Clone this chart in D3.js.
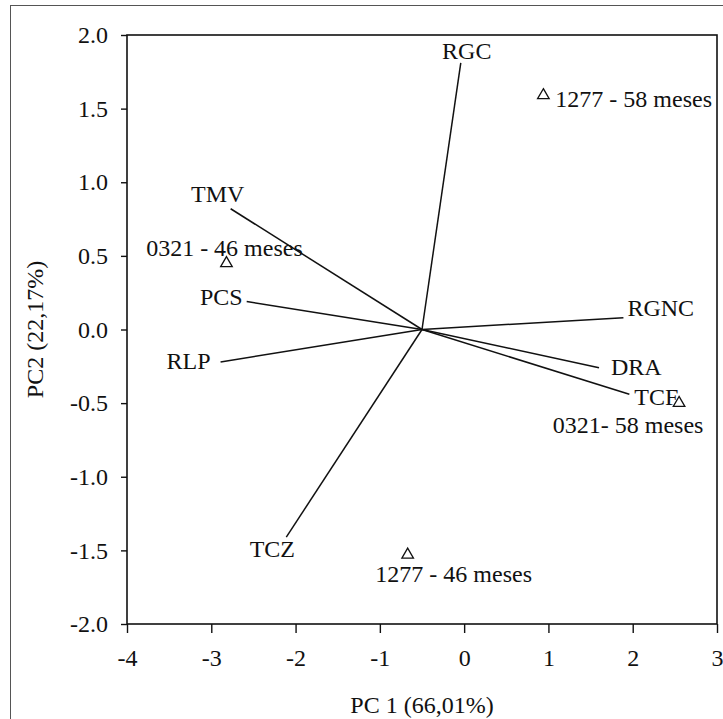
<!DOCTYPE html>
<html>
<head>
<meta charset="utf-8">
<script src="https://cdn.jsdelivr.net/npm/d3@7"></script>
<style>
  body { margin: 0; background: #fff; }
</style>
</head>
<body>
<div id="chart"></div>
<script>
// loadings (vectors drawn from the origin)
var varNames = ["RGC", "TMV", "PCS", "RLP", "TCZ", "RGNC", "DRA", "TCF"];
var varPC1 = [-0.04, -2.77, -2.58, -2.89, -2.11, 1.89, 1.60, 1.96];
var varPC2 = [1.81, 0.82, 0.19, -0.22, -1.41, 0.08, -0.26, -0.44];
var vecOrigin = [-0.5, 0];

// scores (triangles)
var obsNames = ["1277 - 58 meses", "0321 - 46 meses", "0321- 58 meses", "1277 - 46 meses"];
var obsPC1 = [0.94, -2.82, 2.55, -0.67];
var obsPC2 = [1.59, 0.45, -0.50, -1.53];

var xTicks = [-4, -3, -2, -1, 0, 1, 2, 3];
var yTicks = [-2, -1.5, -1, -0.5, 0, 0.5, 1, 1.5, 2];
var xTitle = "PC 1 (66,01%)";
var yTitle = "PC2 (22,17%)";

var FONT = "'Liberation Serif', 'Times New Roman', serif";

// label placement relative to the mark (pixels)
var labelPos = {
  "RGC":  {a: "middle", dx: 6,   dy: -4},
  "TMV":  {a: "middle", dx: -13, dy: -7},
  "PCS":  {a: "end",    dx: -4,  dy: 3},
  "RLP":  {a: "end",    dx: -10, dy: 7},
  "TCZ":  {a: "middle", dx: -14, dy: 20},
  "RGNC": {a: "start",  dx: 4,   dy: -2},
  "DRA":  {a: "start",  dx: 12,  dy: 7},
  "TCF":  {a: "start",  dx: 5,   dy: 11},
  "1277 - 58 meses": {a: "start",  dx: 12,  dy: 12},
  "0321 - 46 meses": {a: "middle", dx: -2,  dy: -7},
  "0321- 58 meses":  {a: "middle", dx: -51, dy: 30},
  "1277 - 46 meses": {a: "middle", dx: 46,  dy: 27}
};

var W = 723, H = 719;
var margin = {top: 35, right: 6, bottom: 95, left: 127};
var width = W - margin.left - margin.right;
var height = H - margin.top - margin.bottom;

var svg = d3.select("#chart").append("svg").attr("width", W).attr("height", H)
  .attr("font-family", FONT);

// outer frame
svg.append("rect").attr("x", 10.5).attr("y", 5.5).attr("width", 800).attr("height", 800)
  .attr("fill", "none").attr("stroke", "#555").attr("stroke-width", 1);

var g = svg.append("g").attr("transform", "translate(" + margin.left + "," + margin.top + ")");

var x = d3.scaleLinear().domain([-4, 3]).range([0, width]);
var y = d3.scaleLinear().domain([-2, 2]).range([height, 0]);

var xAxis = g.append("g").attr("transform", "translate(0," + height + ")")
  .call(d3.axisBottom(x).tickValues(xTicks).tickSize(9).tickSizeOuter(0).tickPadding(16)
    .tickFormat(function(d) { return String(d); }));
var yAxis = g.append("g")
  .call(d3.axisLeft(y).tickValues(yTicks).tickSize(6).tickSizeOuter(0).tickPadding(13)
    .tickFormat(function(d) { return d.toFixed(1); }));

[xAxis, yAxis].forEach(function(ax) {
  ax.attr("font-family", FONT).attr("font-size", 24);
  ax.selectAll("text").attr("fill", "#111");
  ax.selectAll("line").attr("stroke", "#111").attr("stroke-width", 1.4);
  ax.select(".domain").remove();
});

// plot box
g.append("rect").attr("width", width).attr("height", height)
  .attr("fill", "none").attr("stroke", "#111").attr("stroke-width", 1.6);

// axis titles
svg.append("text").attr("x", margin.left + width / 2).attr("y", 713)
  .attr("text-anchor", "middle").attr("font-size", 24).attr("fill", "#111").text(xTitle);
svg.append("text")
  .attr("transform", "translate(43," + (margin.top + height / 2) + ") rotate(-90)")
  .attr("text-anchor", "middle").attr("font-size", 24).attr("fill", "#111").text(yTitle);

// vectors
var vars = varNames.map(function(n, i) { return {name: n, pc1: varPC1[i], pc2: varPC2[i]}; });
g.selectAll(".vec").data(vars).enter().append("line").attr("class", "vec")
  .attr("x1", x(vecOrigin[0])).attr("y1", y(vecOrigin[1]))
  .attr("x2", function(d) { return x(d.pc1); })
  .attr("y2", function(d) { return y(d.pc2); })
  .attr("stroke", "#111").attr("stroke-width", 1.5);

g.selectAll(".vlab").data(vars).enter().append("text").attr("class", "vlab")
  .attr("x", function(d) { return x(d.pc1) + labelPos[d.name].dx; })
  .attr("y", function(d) { return y(d.pc2) + labelPos[d.name].dy; })
  .attr("text-anchor", function(d) { return labelPos[d.name].a; })
  .attr("font-size", 24).attr("fill", "#111")
  .text(function(d) { return d.name; });

// observations
var obs = obsNames.map(function(n, i) { return {name: n, pc1: obsPC1[i], pc2: obsPC2[i]}; });
g.selectAll(".obs").data(obs).enter().append("path").attr("class", "obs")
  .attr("d", d3.symbol().type(d3.symbolTriangle).size(58))
  .attr("transform", function(d) { return "translate(" + x(d.pc1) + "," + y(d.pc2) + ")"; })
  .attr("fill", "none").attr("stroke", "#111").attr("stroke-width", 1.3);

g.selectAll(".olab").data(obs).enter().append("text").attr("class", "olab")
  .attr("x", function(d) { return x(d.pc1) + labelPos[d.name].dx; })
  .attr("y", function(d) { return y(d.pc2) + labelPos[d.name].dy; })
  .attr("text-anchor", function(d) { return labelPos[d.name].a; })
  .attr("font-size", 24).attr("fill", "#111")
  .text(function(d) { return d.name; });
</script>
</body>
</html>
